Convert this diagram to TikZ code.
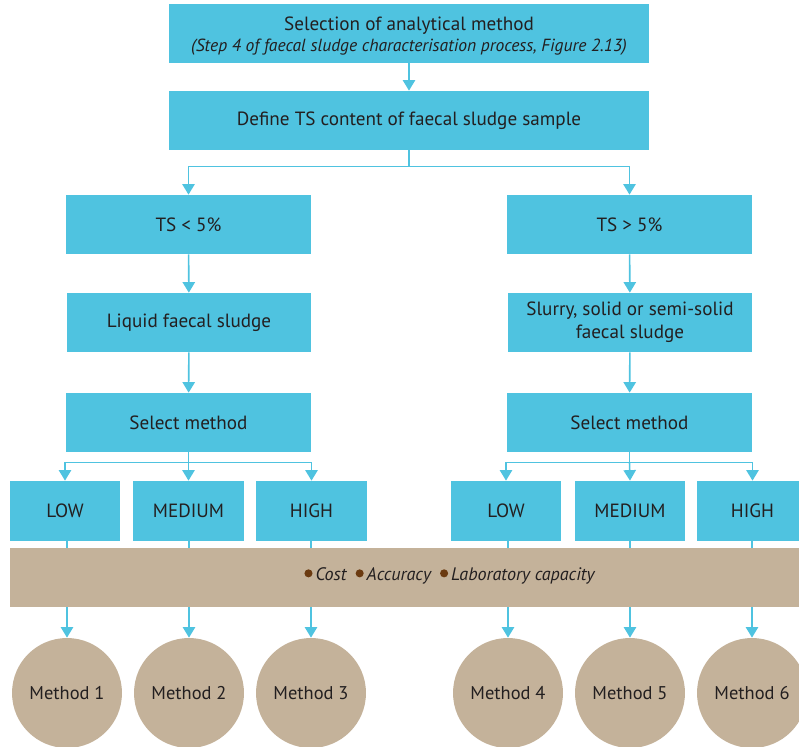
\documentclass[tikz,border=0pt]{standalone}
\usepackage{fontspec}
\setmainfont{PT Sans}
\usetikzlibrary{arrows.meta}
\definecolor{boxblue}{HTML}{4FC3E0}
\definecolor{sand}{HTML}{C4B29A}
\definecolor{dotbrown}{HTML}{6B3A10}
\definecolor{ink}{HTML}{231F20}
\newcommand{\dotmark}{\tikz[baseline=-0.8ex]\fill[dotbrown] (0,0) circle (2.3pt);\,}

\begin{document}
\begin{tikzpicture}[x=0.02cm, y=-0.02cm, align=center, text=ink,
  font=\fontsize{10.9}{13}\selectfont,
  box/.style={fill=boxblue, minimum height=1.18cm, inner sep=2pt},
  tier/.style={fill=boxblue, minimum width=2.22cm, minimum height=1.2cm},
  method/.style={circle, fill=sand, minimum size=2.2cm, inner sep=0pt, font=\fontsize{10.5}{12}\selectfont},
  wire/.style={draw=boxblue, line width=0.9pt},
  link/.style={wire, -{Triangle[length=6pt, width=7pt]}}]

\path[use as bounding box, clip] (0,0) rectangle (799,747);

% Blue boxes
\node[box, minimum width=9.62cm] (select) at (409,33.5) {};
\node (selectlabel) at (409,36.5) {Selection of analytical method\\[-1pt]
  {\itshape\fontsize{10}{12}\selectfont (Step 4 of faecal sludge characterisation process, Figure 2.13)}};
\node[box, minimum width=9.62cm] (define) at (409,120.5) {Define TS content of faecal sludge sample};
\node[box, minimum width=4.9cm] (tslow) at (188.5,224.5) {TS < 5\%};
\node[box, minimum width=4.9cm] (tshigh) at (629.5,224.5) {TS > 5\%};
\node[box, minimum width=4.88cm] (liquid) at (189,322.5) {Liquid faecal sludge};
\node[box, minimum width=4.88cm] (slurry) at (630,322.5) {Slurry, solid or semi-solid\\faecal sludge};
\node[box, minimum width=4.9cm] (pickL) at (188.5,422.5) {Select method};
\node[box, minimum width=4.9cm] (pickR) at (629.5,422.5) {Select method};

% Levels
\node[tier] (lowL) at (65,511) {LOW};
\node[tier] (medL) at (188.5,511) {MEDIUM};
\node[tier] (highL) at (311.5,511) {HIGH};
\node[tier] (lowR) at (506,511) {LOW};
\node[tier] (medR) at (630,511) {MEDIUM};
\node[tier] (highR) at (752.5,511) {HIGH};

% Methods
\node[method] (m1) at (67,693) {Method 1};
\node[method] (m2) at (189,693) {Method 2};
\node[method] (m3) at (311,693) {Method 3};
\node[method] (m4) at (508,693) {Method 4};
\node[method] (m5) at (630,693) {Method 5};
\node[method] (m6) at (752,693) {Method 6};

% Arrows
\draw[link] (select) -- (define);
\draw[wire] (define.south) -- ++(0,16) coordinate (splitTS);
\draw[link] (splitTS) -| (tslow.north);
\draw[link] (splitTS) -| (tshigh.north);
\draw[link] (tslow) -- (liquid);
\draw[link] (tshigh) -- (slurry);
\draw[link] (liquid) -- (pickL);
\draw[link] (slurry) -- (pickR);
\draw[wire] (pickL.south) -- ++(0,10) coordinate (forkL);
\draw[link] (forkL) -| (lowL.north);
\draw[link] (forkL) -- (medL.north);
\draw[link] (forkL) -| (highL.north);
\draw[wire] (pickR.south) -- ++(0,10) coordinate (forkR);
\draw[link] (forkR) -| (lowR.north);
\draw[link] (forkR) -- (medR.north);
\draw[link] (forkR) -| (highR.north);
\draw[link] (lowL.south -| m1) -- (m1);
\draw[link] (medL.south -| m2) -- (m2);
\draw[link] (highL.south -| m3) -- (m3);
\draw[link] (lowR.south -| m4) -- (m4);
\draw[link] (medR.south -| m5) -- (m5);
\draw[link] (highR.south -| m6) -- (m6);

% Criteria band
\node[fill=sand, minimum width=16cm, minimum height=1.18cm] (band) at (410,577.5) {};
\node[font=\itshape\fontsize{10.3}{12}\selectfont] (criteria) at (449.5,576)
  {\dotmark Cost\enspace\dotmark Accuracy\enspace\dotmark Laboratory capacity};

\end{tikzpicture}
\end{document}
